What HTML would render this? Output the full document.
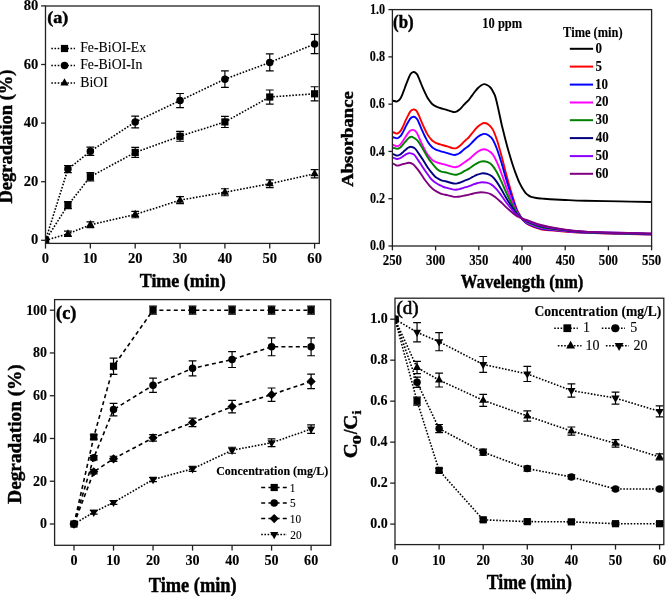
<!DOCTYPE html>
<html><head><meta charset="utf-8"><style>
html,body{margin:0;padding:0;background:#fff;}
svg{display:block;font-family:"Liberation Serif", serif;font-weight:bold;filter:blur(0.3px);}
text{stroke:#000;}
</style></head><body>
<svg width="666" height="596" viewBox="0 0 666 596">
<rect width="666" height="596" fill="#fff"/>
<clipPath id="ca"><rect x="45.5" y="6.0" width="273.8" height="237.4"/></clipPath><g clip-path="url(#ca)">
<path d="M45.50 240.30L67.92 205.14L90.35 176.72L135.20 152.40L180.05 136.29L224.90 121.93L269.75 97.02L314.60 93.80" fill="none" stroke="#000" stroke-width="1.6" stroke-dasharray="1.6 1.6"/>
<path d="M45.50 240.30L67.92 169.10L90.35 151.23L135.20 121.93L180.05 100.54L224.90 79.15L269.75 62.45L314.60 43.99" fill="none" stroke="#000" stroke-width="1.6" stroke-dasharray="1.6 1.6"/>
<path d="M45.50 240.30L67.92 233.85L90.35 224.77L135.20 214.52L180.05 200.16L224.90 192.25L269.75 183.75L314.60 173.79" fill="none" stroke="#000" stroke-width="1.6" stroke-dasharray="1.6 1.6"/>
<rect x="41.90" y="236.70" width="7.20" height="7.20" fill="#000"/>
<path d="M67.92 201.62V208.66M64.02 201.62H71.83M64.02 208.66H71.83" stroke="#000" stroke-width="1.2" fill="none"/>
<rect x="64.33" y="201.54" width="7.20" height="7.20" fill="#000"/>
<path d="M90.35 172.62V180.82M86.45 172.62H94.25M86.45 180.82H94.25" stroke="#000" stroke-width="1.2" fill="none"/>
<rect x="86.75" y="173.12" width="7.20" height="7.20" fill="#000"/>
<path d="M135.20 147.42V157.38M131.30 147.42H139.10M131.30 157.38H139.10" stroke="#000" stroke-width="1.2" fill="none"/>
<rect x="131.60" y="148.80" width="7.20" height="7.20" fill="#000"/>
<path d="M180.05 131.30V141.27M176.15 131.30H183.95M176.15 141.27H183.95" stroke="#000" stroke-width="1.2" fill="none"/>
<rect x="176.45" y="132.69" width="7.20" height="7.20" fill="#000"/>
<path d="M224.90 116.36V127.50M221.00 116.36H228.80M221.00 127.50H228.80" stroke="#000" stroke-width="1.2" fill="none"/>
<rect x="221.30" y="118.33" width="7.20" height="7.20" fill="#000"/>
<path d="M269.75 89.99V104.06M265.85 89.99H273.65M265.85 104.06H273.65" stroke="#000" stroke-width="1.2" fill="none"/>
<rect x="266.15" y="93.42" width="7.20" height="7.20" fill="#000"/>
<path d="M314.60 86.77V100.83M310.70 86.77H318.50M310.70 100.83H318.50" stroke="#000" stroke-width="1.2" fill="none"/>
<rect x="311.00" y="90.20" width="7.20" height="7.20" fill="#000"/>
<circle cx="45.50" cy="240.30" r="3.75" fill="#000"/>
<path d="M67.92 165.59V172.62M64.02 165.59H71.83M64.02 172.62H71.83" stroke="#000" stroke-width="1.2" fill="none"/>
<circle cx="67.92" cy="169.10" r="3.75" fill="#000"/>
<path d="M90.35 147.13V155.33M86.45 147.13H94.25M86.45 155.33H94.25" stroke="#000" stroke-width="1.2" fill="none"/>
<circle cx="90.35" cy="151.23" r="3.75" fill="#000"/>
<path d="M135.20 116.07V127.79M131.30 116.07H139.10M131.30 127.79H139.10" stroke="#000" stroke-width="1.2" fill="none"/>
<circle cx="135.20" cy="121.93" r="3.75" fill="#000"/>
<path d="M180.05 93.51V107.57M176.15 93.51H183.95M176.15 107.57H183.95" stroke="#000" stroke-width="1.2" fill="none"/>
<circle cx="180.05" cy="100.54" r="3.75" fill="#000"/>
<path d="M224.90 70.95V87.35M221.00 70.95H228.80M221.00 87.35H228.80" stroke="#000" stroke-width="1.2" fill="none"/>
<circle cx="224.90" cy="79.15" r="3.75" fill="#000"/>
<path d="M269.75 53.95V70.95M265.85 53.95H273.65M265.85 70.95H273.65" stroke="#000" stroke-width="1.2" fill="none"/>
<circle cx="269.75" cy="62.45" r="3.75" fill="#000"/>
<path d="M314.60 34.32V53.66M310.70 34.32H318.50M310.70 53.66H318.50" stroke="#000" stroke-width="1.2" fill="none"/>
<circle cx="314.60" cy="43.99" r="3.75" fill="#000"/>
<path d="M45.50 235.60L49.60 242.80L41.40 242.80Z" fill="#000"/>
<path d="M67.92 231.22V236.49M64.02 231.22H71.83M64.02 236.49H71.83" stroke="#000" stroke-width="1.2" fill="none"/>
<path d="M67.92 229.15L72.02 236.35L63.82 236.35Z" fill="#000"/>
<path d="M90.35 221.84V227.70M86.45 221.84H94.25M86.45 227.70H94.25" stroke="#000" stroke-width="1.2" fill="none"/>
<path d="M90.35 220.07L94.45 227.27L86.25 227.27Z" fill="#000"/>
<path d="M135.20 211.29V217.74M131.30 211.29H139.10M131.30 217.74H139.10" stroke="#000" stroke-width="1.2" fill="none"/>
<path d="M135.20 209.82L139.30 217.02L131.10 217.02Z" fill="#000"/>
<path d="M180.05 196.64V203.68M176.15 196.64H183.95M176.15 203.68H183.95" stroke="#000" stroke-width="1.2" fill="none"/>
<path d="M180.05 195.46L184.15 202.66L175.95 202.66Z" fill="#000"/>
<path d="M224.90 188.73V195.76M221.00 188.73H228.80M221.00 195.76H228.80" stroke="#000" stroke-width="1.2" fill="none"/>
<path d="M224.90 187.55L229.00 194.75L220.80 194.75Z" fill="#000"/>
<path d="M269.75 179.94V187.56M265.85 179.94H273.65M265.85 187.56H273.65" stroke="#000" stroke-width="1.2" fill="none"/>
<path d="M269.75 179.05L273.85 186.25L265.65 186.25Z" fill="#000"/>
<path d="M314.60 169.69V177.89M310.70 169.69H318.50M310.70 177.89H318.50" stroke="#000" stroke-width="1.2" fill="none"/>
<path d="M314.60 169.09L318.70 176.29L310.50 176.29Z" fill="#000"/>
</g>
<rect x="45.50" y="6.00" width="273.80" height="237.40" fill="none" stroke="#222" stroke-width="1.3"/>
<line x1="45.50" y1="243.40" x2="45.50" y2="248.60" stroke="#222" stroke-width="1.3"/>
<text x="41.86" y="262.60" font-size="14.70" style="stroke-width:0.12px" textLength="7.28" lengthAdjust="spacingAndGlyphs">0</text>
<line x1="90.35" y1="243.40" x2="90.35" y2="248.60" stroke="#222" stroke-width="1.3"/>
<text x="82.78" y="262.60" font-size="14.70" style="stroke-width:0.12px" textLength="14.55" lengthAdjust="spacingAndGlyphs">10</text>
<line x1="135.20" y1="243.40" x2="135.20" y2="248.60" stroke="#222" stroke-width="1.3"/>
<text x="127.92" y="262.60" font-size="14.70" style="stroke-width:0.12px" textLength="14.55" lengthAdjust="spacingAndGlyphs">20</text>
<line x1="180.05" y1="243.40" x2="180.05" y2="248.60" stroke="#222" stroke-width="1.3"/>
<text x="172.81" y="262.60" font-size="14.70" style="stroke-width:0.12px" textLength="14.55" lengthAdjust="spacingAndGlyphs">30</text>
<line x1="224.90" y1="243.40" x2="224.90" y2="248.60" stroke="#222" stroke-width="1.3"/>
<text x="217.81" y="262.60" font-size="14.70" style="stroke-width:0.12px" textLength="14.55" lengthAdjust="spacingAndGlyphs">40</text>
<line x1="269.75" y1="243.40" x2="269.75" y2="248.60" stroke="#222" stroke-width="1.3"/>
<text x="262.47" y="262.60" font-size="14.70" style="stroke-width:0.12px" textLength="14.55" lengthAdjust="spacingAndGlyphs">50</text>
<line x1="314.60" y1="243.40" x2="314.60" y2="248.60" stroke="#222" stroke-width="1.3"/>
<text x="307.36" y="262.60" font-size="14.70" style="stroke-width:0.12px" textLength="14.55" lengthAdjust="spacingAndGlyphs">60</text>
<line x1="41.10" y1="240.30" x2="45.50" y2="240.30" stroke="#222" stroke-width="1.3"/>
<text x="31.11" y="244.40" font-size="14.70" style="stroke-width:0.12px" textLength="7.28" lengthAdjust="spacingAndGlyphs">0</text>
<line x1="41.10" y1="181.70" x2="45.50" y2="181.70" stroke="#222" stroke-width="1.3"/>
<text x="23.83" y="185.80" font-size="14.70" style="stroke-width:0.12px" textLength="14.55" lengthAdjust="spacingAndGlyphs">20</text>
<line x1="41.10" y1="123.10" x2="45.50" y2="123.10" stroke="#222" stroke-width="1.3"/>
<text x="23.83" y="127.20" font-size="14.70" style="stroke-width:0.12px" textLength="14.55" lengthAdjust="spacingAndGlyphs">40</text>
<line x1="41.10" y1="64.50" x2="45.50" y2="64.50" stroke="#222" stroke-width="1.3"/>
<text x="23.83" y="68.60" font-size="14.70" style="stroke-width:0.12px" textLength="14.55" lengthAdjust="spacingAndGlyphs">60</text>
<line x1="41.10" y1="5.90" x2="45.50" y2="5.90" stroke="#222" stroke-width="1.3"/>
<text x="23.83" y="10.00" font-size="14.70" style="stroke-width:0.12px" textLength="14.55" lengthAdjust="spacingAndGlyphs">80</text>
<text x="139.73" y="286.70" font-size="17.90" style="stroke-width:0.45px" textLength="86.02" lengthAdjust="spacingAndGlyphs">Time (min)</text>
<text x="12.10" y="203.58" font-size="18.50" style="stroke-width:0.45px" textLength="134.09" lengthAdjust="spacingAndGlyphs" transform="rotate(-90 12.10 203.58)">Degradation (%)</text>
<text x="47.24" y="23.30" font-size="17.50" style="stroke-width:0.45px" textLength="21.11" lengthAdjust="spacingAndGlyphs">(a)</text>
<path d="M51.30 48.50L75.00 48.50" fill="none" stroke="#000" stroke-width="1.5" stroke-dasharray="1.6 1.6"/>
<rect x="60.90" y="44.90" width="7.20" height="7.20" fill="#000"/>
<text x="80.19" y="52.20" font-size="14.30" font-weight="normal" style="stroke-width:0.1px" textLength="65.99" lengthAdjust="spacingAndGlyphs">Fe-BiOI-Ex</text>
<path d="M51.30 65.60L75.00 65.60" fill="none" stroke="#000" stroke-width="1.5" stroke-dasharray="1.6 1.6"/>
<circle cx="64.50" cy="65.60" r="3.75" fill="#000"/>
<text x="80.19" y="69.30" font-size="14.30" font-weight="normal" style="stroke-width:0.1px" textLength="62.15" lengthAdjust="spacingAndGlyphs">Fe-BiOI-In</text>
<path d="M51.30 82.90L75.00 82.90" fill="none" stroke="#000" stroke-width="1.5" stroke-dasharray="1.6 1.6"/>
<path d="M64.50 78.20L68.60 85.40L60.40 85.40Z" fill="#000"/>
<text x="80.19" y="86.60" font-size="14.30" font-weight="normal" style="stroke-width:0.1px" textLength="27.63" lengthAdjust="spacingAndGlyphs">BiOI</text>
<clipPath id="cb"><rect x="392.4" y="9.6" width="259.2" height="236.4"/></clipPath><g clip-path="url(#cb)" fill="none" stroke-width="1.9" stroke-linejoin="round">
<path d="M392.50 100.60C392.83 100.67 393.78 100.83 394.50 101.00C395.22 101.17 396.12 101.67 396.80 101.60C397.48 101.53 398.00 101.10 398.60 100.60C399.20 100.10 399.80 99.57 400.40 98.60C401.00 97.63 401.60 96.20 402.20 94.80C402.80 93.40 403.40 91.80 404.00 90.20C404.60 88.60 405.20 86.80 405.80 85.20C406.40 83.60 407.05 81.97 407.60 80.60C408.15 79.23 408.60 78.10 409.10 77.00C409.60 75.90 410.07 74.75 410.60 74.00C411.13 73.25 411.75 72.83 412.30 72.50C412.85 72.17 413.37 71.97 413.90 72.00C414.43 72.03 414.95 72.27 415.50 72.70C416.05 73.13 416.62 73.63 417.20 74.60C417.78 75.57 418.40 77.10 419.00 78.50C419.60 79.90 420.20 81.53 420.80 83.00C421.40 84.47 422.00 85.90 422.60 87.30C423.20 88.70 423.80 90.08 424.40 91.40C425.00 92.72 425.60 94.00 426.20 95.20C426.80 96.40 427.30 97.48 428.00 98.60C428.70 99.72 429.60 100.90 430.40 101.90C431.20 102.90 431.90 103.85 432.80 104.60C433.70 105.35 434.80 105.90 435.80 106.40C436.80 106.90 437.80 107.25 438.80 107.60C439.80 107.95 440.78 108.20 441.80 108.50C442.82 108.80 443.98 109.13 444.90 109.40C445.82 109.67 446.50 109.85 447.30 110.10C448.10 110.35 448.90 110.63 449.70 110.90C450.50 111.17 451.30 111.50 452.10 111.70C452.90 111.90 453.70 112.15 454.50 112.10C455.30 112.05 456.10 111.78 456.90 111.40C457.70 111.02 458.50 110.47 459.30 109.80C460.10 109.13 460.90 108.27 461.70 107.40C462.50 106.53 463.30 105.47 464.10 104.60C464.90 103.73 465.70 103.00 466.50 102.20C467.30 101.40 467.98 100.90 468.90 99.80C469.82 98.70 470.98 96.98 472.00 95.60C473.02 94.22 474.00 92.77 475.00 91.50C476.00 90.23 477.00 89.00 478.00 88.00C479.00 87.00 479.98 86.15 481.00 85.50C482.02 84.85 483.10 84.18 484.10 84.10C485.10 84.02 485.95 84.43 487.00 85.00C488.05 85.57 489.45 86.50 490.40 87.50C491.35 88.50 491.95 89.68 492.70 91.00C493.45 92.32 494.25 93.65 494.90 95.40C495.55 97.15 496.03 99.23 496.60 101.50C497.17 103.77 497.73 106.45 498.30 109.00C498.87 111.55 499.43 114.17 500.00 116.80C500.57 119.43 501.03 121.93 501.70 124.80C502.37 127.67 503.23 130.97 504.00 134.00C504.77 137.03 505.55 140.17 506.30 143.00C507.05 145.83 507.75 148.37 508.50 151.00C509.25 153.63 510.05 156.33 510.80 158.80C511.55 161.27 512.25 163.53 513.00 165.80C513.75 168.07 514.53 170.30 515.30 172.40C516.07 174.50 516.83 176.52 517.60 178.40C518.37 180.28 519.05 181.97 519.90 183.70C520.75 185.43 521.77 187.28 522.70 188.80C523.63 190.32 524.57 191.72 525.50 192.80C526.43 193.88 527.35 194.62 528.30 195.30C529.25 195.98 529.88 196.45 531.20 196.90C532.52 197.35 534.32 197.72 536.20 198.00C538.08 198.28 540.20 198.40 542.50 198.60C544.80 198.80 546.25 198.97 550.00 199.20C553.75 199.43 559.17 199.73 565.00 200.00C570.83 200.27 575.83 200.57 585.00 200.80C594.17 201.03 608.90 201.20 620.00 201.40C631.10 201.60 646.33 201.90 651.60 202.00" stroke="#000000"/>
<path d="M392.50 132.20C392.83 132.29 393.78 132.53 394.50 132.76C395.22 132.99 396.12 133.60 396.80 133.60C397.48 133.60 398.00 133.19 398.60 132.78C399.20 132.37 399.80 131.94 400.40 131.15C401.00 130.36 401.60 129.19 402.20 128.04C402.80 126.90 403.40 125.59 404.00 124.28C404.60 122.97 405.20 121.50 405.80 120.19C406.40 118.88 407.05 117.55 407.60 116.43C408.15 115.31 408.60 114.39 409.10 113.49C409.60 112.59 410.07 111.65 410.60 111.04C411.13 110.42 411.75 110.08 412.30 109.81C412.85 109.54 413.37 109.35 413.90 109.40C414.43 109.45 414.95 109.66 415.50 110.08C416.05 110.50 416.62 110.99 417.20 111.93C417.78 112.87 418.40 114.36 419.00 115.72C419.60 117.08 420.20 118.67 420.80 120.10C421.40 121.52 422.00 122.92 422.60 124.28C423.20 125.64 423.80 126.99 424.40 128.27C425.00 129.55 425.60 130.80 426.20 131.96C426.80 133.13 427.30 134.18 428.00 135.27C428.70 136.36 429.60 137.51 430.40 138.48C431.20 139.45 431.90 140.38 432.80 141.11C433.70 141.84 434.80 142.37 435.80 142.86C436.80 143.34 437.80 143.68 438.80 144.02C439.80 144.36 440.78 144.61 441.80 144.90C442.82 145.19 443.98 145.51 444.90 145.77C445.82 146.03 446.50 146.21 447.30 146.45C448.10 146.70 448.90 146.97 449.70 147.23C450.50 147.49 451.30 147.82 452.10 148.01C452.90 148.21 453.70 148.44 454.50 148.40C455.30 148.36 456.10 148.11 456.90 147.77C457.70 147.42 458.50 146.92 459.30 146.31C460.10 145.71 460.90 144.92 461.70 144.14C462.50 143.35 463.30 142.38 464.10 141.60C464.90 140.81 465.70 140.15 466.50 139.42C467.30 138.69 467.98 138.24 468.90 137.24C469.82 136.24 470.98 134.69 472.00 133.43C473.02 132.18 474.00 130.86 475.00 129.71C476.00 128.56 477.00 127.45 478.00 126.54C479.00 125.63 479.98 124.86 481.00 124.27C482.02 123.68 482.93 123.00 484.10 123.00C485.27 123.00 486.57 123.21 488.00 124.27C489.43 125.32 491.17 126.59 492.70 129.34C494.23 132.08 495.70 136.21 497.20 140.74C498.70 145.26 500.18 150.84 501.70 156.49C503.22 162.13 504.78 168.91 506.30 174.58C507.82 180.26 509.10 184.84 510.80 190.51C512.50 196.18 515.13 204.78 516.50 208.61C517.87 212.44 517.92 211.57 519.00 213.50C520.08 215.43 521.33 218.28 523.00 220.20C524.67 222.12 526.00 223.50 529.00 225.00C532.00 226.50 536.00 228.20 541.00 229.20C546.00 230.20 551.67 230.40 559.00 231.00C566.33 231.60 569.57 232.22 585.00 232.80C600.43 233.38 640.50 234.22 651.60 234.50" stroke="#ff0000"/>
<path d="M392.50 137.20C392.83 137.28 393.78 137.48 394.50 137.68C395.22 137.88 396.12 138.40 396.80 138.40C397.48 138.40 398.00 138.04 398.60 137.67C399.20 137.31 399.80 136.92 400.40 136.21C401.00 135.51 401.60 134.46 402.20 133.44C402.80 132.42 403.40 131.25 404.00 130.08C404.60 128.91 405.20 127.60 405.80 126.43C406.40 125.26 407.05 124.07 407.60 123.08C408.15 122.08 408.60 121.25 409.10 120.45C409.60 119.65 410.07 118.81 410.60 118.26C411.13 117.71 411.75 117.41 412.30 117.16C412.85 116.92 413.37 116.75 413.90 116.80C414.43 116.85 414.95 117.05 415.50 117.47C416.05 117.88 416.62 118.36 417.20 119.28C417.78 120.20 418.40 121.66 419.00 122.99C419.60 124.33 420.20 125.88 420.80 127.28C421.40 128.68 422.00 130.04 422.60 131.38C423.20 132.71 423.80 134.03 424.40 135.28C425.00 136.54 425.60 137.76 426.20 138.90C426.80 140.04 427.30 141.08 428.00 142.14C428.70 143.20 429.60 144.33 430.40 145.28C431.20 146.24 431.90 147.14 432.80 147.86C433.70 148.57 434.80 149.09 435.80 149.57C436.80 150.05 437.80 150.38 438.80 150.71C439.80 151.05 440.78 151.28 441.80 151.57C442.82 151.86 443.98 152.17 444.90 152.43C445.82 152.68 446.50 152.86 447.30 153.09C448.10 153.33 448.90 153.60 449.70 153.86C450.50 154.11 451.30 154.43 452.10 154.62C452.90 154.81 453.70 155.02 454.50 155.00C455.30 154.98 456.10 154.76 456.90 154.47C457.70 154.18 458.50 153.77 459.30 153.27C460.10 152.76 460.90 152.11 461.70 151.46C462.50 150.81 463.30 150.00 464.10 149.35C464.90 148.70 465.70 148.14 466.50 147.54C467.30 146.94 467.98 146.56 468.90 145.73C469.82 144.90 470.98 143.61 472.00 142.57C473.02 141.52 474.00 140.43 475.00 139.48C476.00 138.52 477.00 137.59 478.00 136.84C479.00 136.09 479.98 135.44 481.00 134.96C482.02 134.47 482.93 133.89 484.10 133.90C485.27 133.91 486.57 134.09 488.00 135.02C489.43 135.96 491.17 137.08 492.70 139.51C494.23 141.95 495.70 145.61 497.20 149.62C498.70 153.63 500.18 158.57 501.70 163.57C503.22 168.57 504.78 174.58 506.30 179.60C507.82 184.63 509.10 188.69 510.80 193.72C512.50 198.74 515.13 206.36 516.50 209.75C517.87 213.15 517.92 212.38 519.00 214.08C520.08 215.79 521.33 218.30 523.00 220.00C524.67 221.70 526.00 222.88 529.00 224.30C532.00 225.72 536.00 227.45 541.00 228.50C546.00 229.55 551.67 229.92 559.00 230.60C566.33 231.28 569.57 231.98 585.00 232.60C600.43 233.22 640.50 234.04 651.60 234.33" stroke="#0000ff"/>
<path d="M392.50 144.80C392.83 144.90 393.78 145.15 394.50 145.40C395.22 145.65 396.13 146.24 396.80 146.30C397.47 146.36 397.94 146.02 398.51 145.75C399.07 145.47 399.64 145.17 400.21 144.64C400.78 144.10 401.35 143.31 401.92 142.53C402.48 141.76 403.05 140.87 403.62 139.98C404.19 139.10 404.76 138.10 405.33 137.21C405.89 136.33 406.51 135.42 407.03 134.66C407.55 133.91 407.98 133.28 408.45 132.67C408.93 132.06 409.37 131.42 409.87 131.01C410.38 130.59 410.96 130.36 411.48 130.18C412.01 129.99 412.47 129.84 413.00 129.90C413.53 129.96 414.09 130.15 414.66 130.55C415.22 130.95 415.81 131.42 416.41 132.32C417.02 133.22 417.66 134.64 418.28 135.95C418.90 137.25 419.52 138.77 420.14 140.13C420.76 141.50 421.38 142.83 422.00 144.13C422.62 145.43 423.24 146.72 423.86 147.95C424.48 149.17 425.10 150.36 425.72 151.48C426.34 152.60 426.86 153.60 427.59 154.64C428.31 155.68 429.24 156.78 430.07 157.71C430.90 158.64 431.62 159.53 432.55 160.22C433.48 160.92 434.62 161.43 435.66 161.90C436.69 162.36 437.72 162.69 438.76 163.01C439.79 163.34 440.81 163.57 441.86 163.85C442.91 164.13 444.12 164.44 445.07 164.69C446.02 164.94 446.72 165.11 447.55 165.34C448.38 165.57 449.21 165.84 450.03 166.08C450.86 166.33 451.69 166.64 452.52 166.83C453.34 167.01 454.20 167.21 455.00 167.20C455.80 167.19 456.55 167.00 457.32 166.75C458.09 166.51 458.86 166.16 459.64 165.73C460.41 165.30 461.18 164.75 461.96 164.20C462.73 163.64 463.50 162.96 464.28 162.41C465.05 161.85 465.82 161.38 466.59 160.87C467.37 160.36 468.03 160.04 468.91 159.34C469.80 158.63 470.93 157.54 471.91 156.65C472.89 155.77 473.84 154.84 474.81 154.03C475.77 153.22 476.74 152.43 477.71 151.79C478.67 151.15 479.62 150.61 480.60 150.20C481.59 149.78 482.44 149.30 483.60 149.30C484.76 149.30 486.10 149.45 487.56 150.22C489.01 150.98 490.77 151.89 492.32 153.88C493.88 155.86 495.37 158.84 496.89 162.11C498.41 165.38 499.91 169.41 501.45 173.49C502.99 177.56 504.58 182.46 506.12 186.56C507.66 190.66 508.96 193.97 510.68 198.06C512.41 202.16 515.08 208.37 516.46 211.14C517.85 213.90 517.91 213.22 519.00 214.67C520.09 216.11 521.33 218.31 523.00 219.80C524.67 221.29 526.00 222.27 529.00 223.60C532.00 224.93 536.00 226.70 541.00 227.80C546.00 228.90 551.67 229.43 559.00 230.20C566.33 230.97 569.57 231.74 585.00 232.40C600.43 233.06 640.50 233.87 651.60 234.17" stroke="#ff00ff"/>
<path d="M392.50 147.60C392.83 147.69 393.78 147.90 394.50 148.12C395.22 148.34 396.15 148.84 396.80 148.90C397.45 148.96 397.88 148.70 398.42 148.49C398.96 148.29 399.50 148.07 400.04 147.67C400.58 147.28 401.12 146.69 401.66 146.12C402.20 145.55 402.74 144.89 403.28 144.24C403.82 143.59 404.36 142.85 404.91 142.20C405.45 141.54 406.03 140.87 406.53 140.32C407.02 139.76 407.43 139.29 407.88 138.84C408.33 138.39 408.75 137.92 409.23 137.62C409.71 137.31 410.26 137.14 410.76 137.00C411.25 136.87 411.14 136.27 412.20 136.80C413.26 137.33 415.62 138.67 417.10 140.20C418.58 141.73 419.75 143.85 421.10 146.00C422.45 148.15 423.85 150.83 425.20 153.10C426.55 155.37 427.87 157.67 429.20 159.60C430.53 161.53 431.87 163.10 433.20 164.70C434.53 166.30 435.85 168.03 437.20 169.20C438.55 170.37 440.01 171.19 441.30 171.70C442.59 172.21 443.92 172.04 444.96 172.24C445.99 172.44 446.65 172.67 447.49 172.90C448.34 173.14 449.18 173.41 450.03 173.66C450.87 173.92 451.72 174.23 452.56 174.42C453.41 174.61 454.30 174.79 455.10 174.80C455.90 174.81 456.61 174.65 457.37 174.46C458.13 174.27 458.88 174.01 459.64 173.68C460.40 173.36 461.15 172.94 461.91 172.52C462.67 172.10 463.42 171.58 464.18 171.16C464.94 170.74 465.69 170.38 466.45 169.99C467.21 169.60 467.85 169.36 468.72 168.83C469.59 168.29 470.69 167.46 471.65 166.79C472.62 166.11 473.55 165.41 474.49 164.79C475.44 164.18 476.38 163.58 477.33 163.09C478.28 162.61 479.21 162.20 480.17 161.88C481.13 161.56 481.94 161.19 483.10 161.20C484.26 161.21 485.64 161.33 487.11 161.96C488.59 162.59 490.37 163.34 491.95 164.98C493.52 166.62 495.03 169.09 496.58 171.79C498.12 174.50 499.64 177.83 501.20 181.20C502.76 184.57 504.38 188.62 505.94 192.01C507.50 195.40 508.82 198.13 510.57 201.52C512.31 204.91 515.02 210.04 516.43 212.33C517.83 214.62 517.90 214.04 519.00 215.25C520.10 216.46 521.33 218.32 523.00 219.60C524.67 220.88 526.00 221.65 529.00 222.90C532.00 224.15 536.00 225.95 541.00 227.10C546.00 228.25 551.67 228.95 559.00 229.80C566.33 230.65 569.57 231.50 585.00 232.20C600.43 232.90 640.50 233.70 651.60 234.00" stroke="#008000"/>
<path d="M392.50 154.00C392.83 154.11 393.78 154.37 394.50 154.64C395.22 154.91 396.16 155.49 396.80 155.60C397.44 155.71 397.82 155.45 398.33 155.31C398.84 155.16 399.34 155.00 399.85 154.72C400.36 154.43 400.87 154.01 401.38 153.60C401.89 153.19 402.40 152.72 402.91 152.25C403.41 151.78 403.92 151.25 404.43 150.78C404.94 150.31 405.49 149.83 405.96 149.43C406.42 149.03 406.81 148.69 407.23 148.37C407.65 148.05 408.05 147.71 408.50 147.49C408.95 147.27 409.48 147.14 409.94 147.05C410.41 146.95 410.44 146.64 411.30 146.90C412.16 147.16 413.80 147.40 415.10 148.60C416.40 149.80 417.77 152.18 419.10 154.10C420.43 156.02 421.75 158.00 423.10 160.10C424.45 162.20 425.85 164.68 427.20 166.70C428.55 168.72 429.87 170.53 431.20 172.20C432.53 173.87 433.85 175.52 435.20 176.70C436.55 177.88 438.27 178.70 439.30 179.30C440.33 179.90 440.49 180.00 441.40 180.31C442.31 180.61 443.75 180.88 444.74 181.13C445.73 181.37 446.47 181.54 447.33 181.77C448.20 182.00 449.06 182.26 449.92 182.50C450.78 182.75 451.65 183.05 452.51 183.23C453.37 183.42 454.29 183.58 455.10 183.60C455.91 183.62 456.61 183.48 457.37 183.34C458.13 183.20 458.88 183.00 459.64 182.75C460.40 182.51 461.15 182.19 461.91 181.87C462.67 181.55 463.42 181.16 464.18 180.84C464.94 180.52 465.69 180.25 466.45 179.96C467.21 179.66 467.85 179.48 468.72 179.08C469.59 178.67 470.69 178.04 471.65 177.53C472.62 177.02 473.55 176.49 474.49 176.02C475.44 175.56 476.38 175.10 477.33 174.73C478.28 174.37 479.21 174.05 480.17 173.81C481.13 173.58 481.94 173.29 483.10 173.30C484.26 173.31 485.64 173.40 487.11 173.90C488.59 174.39 490.37 174.99 491.95 176.28C493.52 177.57 495.03 179.51 496.58 181.64C498.12 183.76 499.64 186.39 501.20 189.04C502.76 191.69 504.38 194.88 505.94 197.54C507.50 200.21 508.82 202.36 510.57 205.03C512.31 207.70 515.02 211.74 516.43 213.54C517.83 215.34 517.90 214.86 519.00 215.83C520.10 216.81 521.33 218.34 523.00 219.40C524.67 220.46 526.00 221.03 529.00 222.20C532.00 223.37 536.00 225.20 541.00 226.40C546.00 227.60 551.67 228.47 559.00 229.40C566.33 230.33 569.57 231.26 585.00 232.00C600.43 232.74 640.50 233.53 651.60 233.83" stroke="#000080"/>
<path d="M392.50 157.60C392.83 157.69 393.78 157.93 394.50 158.16C395.22 158.39 396.19 158.89 396.80 159.00C397.41 159.11 397.73 158.90 398.19 158.80C398.65 158.71 399.12 158.60 399.58 158.41C400.04 158.22 400.51 157.94 400.97 157.67C401.43 157.39 401.89 157.08 402.36 156.77C402.82 156.45 403.28 156.10 403.75 155.79C404.21 155.47 404.71 155.15 405.14 154.89C405.56 154.62 405.91 154.40 406.29 154.18C406.68 153.96 407.04 153.74 407.45 153.59C407.86 153.44 408.34 153.36 408.76 153.30C409.19 153.23 409.11 152.98 410.00 153.20C410.89 153.42 412.75 153.45 414.10 154.60C415.45 155.75 416.77 158.17 418.10 160.10C419.43 162.03 420.75 164.18 422.10 166.20C423.45 168.22 424.85 170.27 426.20 172.20C427.55 174.13 428.87 176.20 430.20 177.80C431.53 179.40 432.87 180.72 434.20 181.80C435.53 182.88 436.85 183.55 438.20 184.30C439.55 185.05 441.26 185.81 442.30 186.30C443.34 186.79 443.64 186.98 444.44 187.24C445.24 187.51 446.21 187.65 447.10 187.88C447.99 188.11 448.88 188.37 449.77 188.61C450.66 188.85 451.55 189.15 452.43 189.34C453.32 189.52 454.29 189.67 455.10 189.70C455.91 189.73 456.58 189.62 457.32 189.51C458.06 189.41 458.80 189.26 459.54 189.08C460.28 188.91 461.02 188.67 461.76 188.44C462.51 188.21 463.25 187.92 463.99 187.69C464.73 187.46 465.47 187.26 466.21 187.05C466.95 186.83 467.58 186.70 468.43 186.41C469.28 186.11 470.36 185.65 471.30 185.28C472.24 184.91 473.15 184.52 474.08 184.18C475.00 183.84 475.93 183.51 476.85 183.24C477.78 182.98 478.69 182.75 479.63 182.57C480.57 182.40 481.34 182.18 482.50 182.20C483.66 182.22 485.08 182.28 486.58 182.68C488.08 183.08 489.89 183.56 491.49 184.60C493.10 185.63 494.63 187.20 496.20 188.91C497.77 190.62 499.32 192.73 500.91 194.86C502.49 196.99 504.13 199.56 505.72 201.70C507.30 203.85 508.65 205.58 510.42 207.73C512.20 209.87 514.96 213.12 516.39 214.57C517.81 216.02 517.90 215.64 519.00 216.42C520.10 217.19 521.33 218.35 523.00 219.20C524.67 220.05 526.00 220.42 529.00 221.50C532.00 222.58 536.00 224.45 541.00 225.70C546.00 226.95 551.67 227.98 559.00 229.00C566.33 230.02 569.57 231.02 585.00 231.80C600.43 232.58 640.50 233.36 651.60 233.67" stroke="#8b00ff"/>
<path d="M392.50 163.40C392.83 163.55 393.78 163.91 394.50 164.28C395.22 164.65 396.21 165.40 396.80 165.60C397.39 165.80 397.64 165.55 398.06 165.50C398.48 165.45 398.91 165.40 399.33 165.31C399.75 165.21 400.17 165.07 400.59 164.93C401.01 164.80 401.43 164.64 401.85 164.48C402.27 164.33 402.59 164.14 403.12 163.99C403.64 163.85 404.02 163.82 405.00 163.60C405.98 163.38 407.65 162.60 409.00 162.70C410.35 162.80 411.75 163.20 413.10 164.20C414.45 165.20 415.77 167.03 417.10 168.70C418.43 170.37 419.75 172.27 421.10 174.20C422.45 176.13 423.85 178.45 425.20 180.30C426.55 182.15 427.87 183.80 429.20 185.30C430.53 186.80 431.87 188.22 433.20 189.30C434.53 190.38 435.85 191.03 437.20 191.80C438.55 192.57 440.06 193.43 441.30 193.90C442.54 194.37 443.60 194.38 444.61 194.60C445.62 194.81 446.46 194.98 447.38 195.19C448.31 195.41 449.23 195.65 450.16 195.88C451.08 196.10 452.00 196.39 452.93 196.56C453.85 196.73 454.89 196.86 455.70 196.90C456.51 196.94 457.08 196.85 457.78 196.78C458.47 196.72 459.16 196.63 459.85 196.52C460.54 196.41 461.24 196.27 461.93 196.13C462.62 195.99 463.31 195.81 464.00 195.67C464.69 195.53 465.39 195.41 466.08 195.27C466.77 195.14 467.36 195.06 468.15 194.88C468.95 194.70 469.96 194.42 470.84 194.19C471.71 193.96 472.56 193.72 473.43 193.52C474.29 193.31 475.16 193.11 476.02 192.94C476.89 192.78 477.74 192.64 478.62 192.53C479.50 192.42 480.15 192.28 481.30 192.30C482.45 192.32 483.96 192.36 485.51 192.65C487.06 192.93 488.93 193.28 490.59 194.03C492.25 194.78 493.83 195.91 495.45 197.14C497.07 198.38 498.67 199.90 500.31 201.44C501.95 202.98 503.64 204.83 505.28 206.38C506.92 207.93 508.31 209.18 510.14 210.73C511.98 212.27 514.82 214.62 516.30 215.67C517.78 216.71 517.88 216.44 519.00 217.00C520.12 217.56 521.33 218.37 523.00 219.00C524.67 219.63 526.00 219.80 529.00 220.80C532.00 221.80 536.00 223.70 541.00 225.00C546.00 226.30 551.67 227.50 559.00 228.60C566.33 229.70 569.57 230.78 585.00 231.60C600.43 232.42 640.50 233.18 651.60 233.50" stroke="#800080"/>
</g>
<rect x="392.40" y="9.60" width="259.20" height="236.40" fill="none" stroke="#222" stroke-width="1.3"/>
<line x1="392.40" y1="246.00" x2="392.40" y2="250.30" stroke="#222" stroke-width="1.3"/>
<text x="382.77" y="264.90" font-size="13.80" style="stroke-width:0.12px" textLength="19.25" lengthAdjust="spacingAndGlyphs">250</text>
<line x1="435.60" y1="246.00" x2="435.60" y2="250.30" stroke="#222" stroke-width="1.3"/>
<text x="426.01" y="264.90" font-size="13.80" style="stroke-width:0.12px" textLength="19.25" lengthAdjust="spacingAndGlyphs">300</text>
<line x1="478.80" y1="246.00" x2="478.80" y2="250.30" stroke="#222" stroke-width="1.3"/>
<text x="469.21" y="264.90" font-size="13.80" style="stroke-width:0.12px" textLength="19.25" lengthAdjust="spacingAndGlyphs">350</text>
<line x1="522.00" y1="246.00" x2="522.00" y2="250.30" stroke="#222" stroke-width="1.3"/>
<text x="512.53" y="264.90" font-size="13.80" style="stroke-width:0.12px" textLength="19.25" lengthAdjust="spacingAndGlyphs">400</text>
<line x1="565.20" y1="246.00" x2="565.20" y2="250.30" stroke="#222" stroke-width="1.3"/>
<text x="555.73" y="264.90" font-size="13.80" style="stroke-width:0.12px" textLength="19.25" lengthAdjust="spacingAndGlyphs">450</text>
<line x1="608.40" y1="246.00" x2="608.40" y2="250.30" stroke="#222" stroke-width="1.3"/>
<text x="598.77" y="264.90" font-size="13.80" style="stroke-width:0.12px" textLength="19.25" lengthAdjust="spacingAndGlyphs">500</text>
<line x1="651.60" y1="246.00" x2="651.60" y2="250.30" stroke="#222" stroke-width="1.3"/>
<text x="641.97" y="264.90" font-size="13.80" style="stroke-width:0.12px" textLength="19.25" lengthAdjust="spacingAndGlyphs">550</text>
<line x1="388.40" y1="246.00" x2="392.40" y2="246.00" stroke="#222" stroke-width="1.3"/>
<text x="369.91" y="250.25" font-size="13.80" style="stroke-width:0.12px" textLength="15.18" lengthAdjust="spacingAndGlyphs">0.0</text>
<line x1="388.40" y1="198.72" x2="392.40" y2="198.72" stroke="#222" stroke-width="1.3"/>
<text x="369.91" y="202.97" font-size="13.80" style="stroke-width:0.12px" textLength="15.18" lengthAdjust="spacingAndGlyphs">0.2</text>
<line x1="388.40" y1="151.44" x2="392.40" y2="151.44" stroke="#222" stroke-width="1.3"/>
<text x="369.66" y="155.69" font-size="13.80" style="stroke-width:0.12px" textLength="15.18" lengthAdjust="spacingAndGlyphs">0.4</text>
<line x1="388.40" y1="104.16" x2="392.40" y2="104.16" stroke="#222" stroke-width="1.3"/>
<text x="369.78" y="108.41" font-size="13.80" style="stroke-width:0.12px" textLength="15.18" lengthAdjust="spacingAndGlyphs">0.6</text>
<line x1="388.40" y1="56.88" x2="392.40" y2="56.88" stroke="#222" stroke-width="1.3"/>
<text x="369.85" y="61.13" font-size="13.80" style="stroke-width:0.12px" textLength="15.18" lengthAdjust="spacingAndGlyphs">0.8</text>
<line x1="388.40" y1="9.60" x2="392.40" y2="9.60" stroke="#222" stroke-width="1.3"/>
<text x="369.91" y="13.85" font-size="13.80" style="stroke-width:0.12px" textLength="15.18" lengthAdjust="spacingAndGlyphs">1.0</text>
<text x="460.85" y="287.50" font-size="18.50" style="stroke-width:0.45px" textLength="122.53" lengthAdjust="spacingAndGlyphs">Wavelength (nm)</text>
<text x="352.90" y="186.79" font-size="17.40" style="stroke-width:0.45px" textLength="95.59" lengthAdjust="spacingAndGlyphs" transform="rotate(-90 352.90 186.79)">Absorbance</text>
<text x="393.04" y="27.50" font-size="18.10" style="stroke-width:0.45px" textLength="20.57" lengthAdjust="spacingAndGlyphs">(b)</text>
<text x="482.30" y="27.80" font-size="14.20" style="stroke-width:0.12px" textLength="39.85" lengthAdjust="spacingAndGlyphs">10 ppm</text>
<text x="563.11" y="36.70" font-size="14.10" style="stroke-width:0.12px" textLength="59.51" lengthAdjust="spacingAndGlyphs">Time (min)</text>
<line x1="569.80" y1="48.80" x2="593.10" y2="48.80" stroke="#000000" stroke-width="2.0"/>
<text x="595.48" y="52.70" font-size="14.40" style="stroke-width:0.12px" textLength="6.48" lengthAdjust="spacingAndGlyphs">0</text>
<line x1="569.80" y1="66.60" x2="593.10" y2="66.60" stroke="#ff0000" stroke-width="2.0"/>
<text x="595.48" y="70.50" font-size="14.40" style="stroke-width:0.12px" textLength="6.48" lengthAdjust="spacingAndGlyphs">5</text>
<line x1="569.80" y1="84.60" x2="593.10" y2="84.60" stroke="#0000ff" stroke-width="2.0"/>
<text x="594.96" y="88.50" font-size="14.40" style="stroke-width:0.12px" textLength="12.96" lengthAdjust="spacingAndGlyphs">10</text>
<line x1="569.80" y1="102.50" x2="593.10" y2="102.50" stroke="#ff00ff" stroke-width="2.0"/>
<text x="595.48" y="106.40" font-size="14.40" style="stroke-width:0.12px" textLength="12.96" lengthAdjust="spacingAndGlyphs">20</text>
<line x1="569.80" y1="120.20" x2="593.10" y2="120.20" stroke="#008000" stroke-width="2.0"/>
<text x="595.55" y="124.10" font-size="14.40" style="stroke-width:0.12px" textLength="12.96" lengthAdjust="spacingAndGlyphs">30</text>
<line x1="569.80" y1="138.10" x2="593.10" y2="138.10" stroke="#000080" stroke-width="2.0"/>
<text x="595.81" y="142.00" font-size="14.40" style="stroke-width:0.12px" textLength="12.96" lengthAdjust="spacingAndGlyphs">40</text>
<line x1="569.80" y1="156.10" x2="593.10" y2="156.10" stroke="#8b00ff" stroke-width="2.0"/>
<text x="595.48" y="160.00" font-size="14.40" style="stroke-width:0.12px" textLength="12.96" lengthAdjust="spacingAndGlyphs">50</text>
<line x1="569.80" y1="173.80" x2="593.10" y2="173.80" stroke="#800080" stroke-width="2.0"/>
<text x="595.55" y="177.70" font-size="14.40" style="stroke-width:0.12px" textLength="12.96" lengthAdjust="spacingAndGlyphs">60</text>
<path d="M74.00 524.00L93.76 436.98L113.52 366.22L153.03 310.20L192.55 310.20L232.07 310.20L271.58 310.20L311.10 310.20" fill="none" stroke="#000" stroke-width="1.6" stroke-dasharray="4 3.2"/>
<path d="M74.00 524.00L93.76 457.72L113.52 409.62L153.03 385.24L192.55 368.35L232.07 359.59L271.58 346.76L311.10 346.76" fill="none" stroke="#000" stroke-width="1.6" stroke-dasharray="4 3.2"/>
<path d="M74.00 524.00L93.76 471.83L113.52 458.79L153.03 437.84L192.55 422.44L232.07 406.62L271.58 394.65L311.10 381.40" fill="none" stroke="#000" stroke-width="1.6" stroke-dasharray="4 3.2"/>
<path d="M74.00 524.00L93.76 512.24L113.52 502.41L153.03 479.53L192.55 468.84L232.07 450.24L271.58 442.76L311.10 429.07" fill="none" stroke="#000" stroke-width="1.6" stroke-dasharray="1.6 1.6"/>
<rect x="70.40" y="520.40" width="7.20" height="7.20" fill="#000"/>
<path d="M93.76 434.85V439.12M89.86 434.85H97.66M89.86 439.12H97.66" stroke="#000" stroke-width="1.2" fill="none"/>
<rect x="90.16" y="433.38" width="7.20" height="7.20" fill="#000"/>
<path d="M113.52 358.09V374.34M109.62 358.09H117.42M109.62 374.34H117.42" stroke="#000" stroke-width="1.2" fill="none"/>
<rect x="109.92" y="362.62" width="7.20" height="7.20" fill="#000"/>
<path d="M153.03 306.14V314.26M149.13 306.14H156.93M149.13 314.26H156.93" stroke="#000" stroke-width="1.2" fill="none"/>
<rect x="149.43" y="306.60" width="7.20" height="7.20" fill="#000"/>
<path d="M192.55 306.14V314.26M188.65 306.14H196.45M188.65 314.26H196.45" stroke="#000" stroke-width="1.2" fill="none"/>
<rect x="188.95" y="306.60" width="7.20" height="7.20" fill="#000"/>
<path d="M232.07 306.14V314.26M228.17 306.14H235.97M228.17 314.26H235.97" stroke="#000" stroke-width="1.2" fill="none"/>
<rect x="228.47" y="306.60" width="7.20" height="7.20" fill="#000"/>
<path d="M271.58 306.14V314.26M267.68 306.14H275.48M267.68 314.26H275.48" stroke="#000" stroke-width="1.2" fill="none"/>
<rect x="267.98" y="306.60" width="7.20" height="7.20" fill="#000"/>
<path d="M311.10 306.14V314.26M307.20 306.14H315.00M307.20 314.26H315.00" stroke="#000" stroke-width="1.2" fill="none"/>
<rect x="307.50" y="306.60" width="7.20" height="7.20" fill="#000"/>
<circle cx="74.00" cy="524.00" r="3.75" fill="#000"/>
<path d="M93.76 455.58V459.86M89.86 455.58H97.66M89.86 459.86H97.66" stroke="#000" stroke-width="1.2" fill="none"/>
<circle cx="93.76" cy="457.72" r="3.75" fill="#000"/>
<path d="M113.52 403.42V415.82M109.62 403.42H117.42M109.62 415.82H117.42" stroke="#000" stroke-width="1.2" fill="none"/>
<circle cx="113.52" cy="409.62" r="3.75" fill="#000"/>
<path d="M153.03 378.19V392.30M149.13 378.19H156.93M149.13 392.30H156.93" stroke="#000" stroke-width="1.2" fill="none"/>
<circle cx="153.03" cy="385.24" r="3.75" fill="#000"/>
<path d="M192.55 360.87V375.84M188.65 360.87H196.45M188.65 375.84H196.45" stroke="#000" stroke-width="1.2" fill="none"/>
<circle cx="192.55" cy="368.35" r="3.75" fill="#000"/>
<path d="M232.07 351.68V367.50M228.17 351.68H235.97M228.17 367.50H235.97" stroke="#000" stroke-width="1.2" fill="none"/>
<circle cx="232.07" cy="359.59" r="3.75" fill="#000"/>
<path d="M271.58 337.78V355.74M267.68 337.78H275.48M267.68 355.74H275.48" stroke="#000" stroke-width="1.2" fill="none"/>
<circle cx="271.58" cy="346.76" r="3.75" fill="#000"/>
<path d="M311.10 337.78V355.74M307.20 337.78H315.00M307.20 355.74H315.00" stroke="#000" stroke-width="1.2" fill="none"/>
<circle cx="311.10" cy="346.76" r="3.75" fill="#000"/>
<path d="M74.00 519.40L78.60 524.00L74.00 528.60L69.40 524.00Z" fill="#000"/>
<path d="M93.76 469.69V473.97M89.86 469.69H97.66M89.86 473.97H97.66" stroke="#000" stroke-width="1.2" fill="none"/>
<path d="M93.76 467.23L98.36 471.83L93.76 476.43L89.16 471.83Z" fill="#000"/>
<path d="M113.52 456.23V461.36M109.62 456.23H117.42M109.62 461.36H117.42" stroke="#000" stroke-width="1.2" fill="none"/>
<path d="M113.52 454.19L118.12 458.79L113.52 463.39L108.92 458.79Z" fill="#000"/>
<path d="M153.03 434.63V441.05M149.13 434.63H156.93M149.13 441.05H156.93" stroke="#000" stroke-width="1.2" fill="none"/>
<path d="M153.03 433.24L157.63 437.84L153.03 442.44L148.43 437.84Z" fill="#000"/>
<path d="M192.55 418.17V426.72M188.65 418.17H196.45M188.65 426.72H196.45" stroke="#000" stroke-width="1.2" fill="none"/>
<path d="M192.55 417.84L197.15 422.44L192.55 427.05L187.95 422.44Z" fill="#000"/>
<path d="M232.07 400.42V412.82M228.17 400.42H235.97M228.17 412.82H235.97" stroke="#000" stroke-width="1.2" fill="none"/>
<path d="M232.07 402.02L236.67 406.62L232.07 411.22L227.47 406.62Z" fill="#000"/>
<path d="M271.58 388.02V401.28M267.68 388.02H275.48M267.68 401.28H275.48" stroke="#000" stroke-width="1.2" fill="none"/>
<path d="M271.58 390.05L276.18 394.65L271.58 399.25L266.98 394.65Z" fill="#000"/>
<path d="M311.10 374.13V388.66M307.20 374.13H315.00M307.20 388.66H315.00" stroke="#000" stroke-width="1.2" fill="none"/>
<path d="M311.10 376.80L315.70 381.40L311.10 386.00L306.50 381.40Z" fill="#000"/>
<path d="M74.00 528.70L78.10 521.50L69.90 521.50Z" fill="#000"/>
<path d="M93.76 510.32V514.17M89.86 510.32H97.66M89.86 514.17H97.66" stroke="#000" stroke-width="1.2" fill="none"/>
<path d="M93.76 516.94L97.86 509.74L89.66 509.74Z" fill="#000"/>
<path d="M113.52 500.48V504.33M109.62 500.48H117.42M109.62 504.33H117.42" stroke="#000" stroke-width="1.2" fill="none"/>
<path d="M113.52 507.11L117.62 499.91L109.42 499.91Z" fill="#000"/>
<path d="M153.03 477.39V481.67M149.13 477.39H156.93M149.13 481.67H156.93" stroke="#000" stroke-width="1.2" fill="none"/>
<path d="M153.03 484.23L157.13 477.03L148.93 477.03Z" fill="#000"/>
<path d="M192.55 466.27V471.41M188.65 466.27H196.45M188.65 471.41H196.45" stroke="#000" stroke-width="1.2" fill="none"/>
<path d="M192.55 473.54L196.65 466.34L188.45 466.34Z" fill="#000"/>
<path d="M232.07 447.25V453.23M228.17 447.25H235.97M228.17 453.23H235.97" stroke="#000" stroke-width="1.2" fill="none"/>
<path d="M232.07 454.94L236.17 447.74L227.97 447.74Z" fill="#000"/>
<path d="M271.58 438.91V446.60M267.68 438.91H275.48M267.68 446.60H275.48" stroke="#000" stroke-width="1.2" fill="none"/>
<path d="M271.58 447.46L275.68 440.26L267.48 440.26Z" fill="#000"/>
<path d="M311.10 424.80V433.35M307.20 424.80H315.00M307.20 433.35H315.00" stroke="#000" stroke-width="1.2" fill="none"/>
<path d="M311.10 433.77L315.20 426.57L307.00 426.57Z" fill="#000"/>
<rect x="54.60" y="299.60" width="276.10" height="245.70" fill="none" stroke="#222" stroke-width="1.3"/>
<line x1="74.00" y1="545.30" x2="74.00" y2="550.60" stroke="#222" stroke-width="1.3"/>
<text x="70.48" y="564.70" font-size="15.00" style="stroke-width:0.12px" textLength="7.05" lengthAdjust="spacingAndGlyphs">0</text>
<line x1="113.52" y1="545.30" x2="113.52" y2="550.60" stroke="#222" stroke-width="1.3"/>
<text x="106.18" y="564.70" font-size="15.00" style="stroke-width:0.12px" textLength="14.10" lengthAdjust="spacingAndGlyphs">10</text>
<line x1="153.03" y1="545.30" x2="153.03" y2="550.60" stroke="#222" stroke-width="1.3"/>
<text x="145.98" y="564.70" font-size="15.00" style="stroke-width:0.12px" textLength="14.10" lengthAdjust="spacingAndGlyphs">20</text>
<line x1="192.55" y1="545.30" x2="192.55" y2="550.60" stroke="#222" stroke-width="1.3"/>
<text x="185.54" y="564.70" font-size="15.00" style="stroke-width:0.12px" textLength="14.10" lengthAdjust="spacingAndGlyphs">30</text>
<line x1="232.07" y1="545.30" x2="232.07" y2="550.60" stroke="#222" stroke-width="1.3"/>
<text x="225.19" y="564.70" font-size="15.00" style="stroke-width:0.12px" textLength="14.10" lengthAdjust="spacingAndGlyphs">40</text>
<line x1="271.58" y1="545.30" x2="271.58" y2="550.60" stroke="#222" stroke-width="1.3"/>
<text x="264.53" y="564.70" font-size="15.00" style="stroke-width:0.12px" textLength="14.10" lengthAdjust="spacingAndGlyphs">50</text>
<line x1="311.10" y1="545.30" x2="311.10" y2="550.60" stroke="#222" stroke-width="1.3"/>
<text x="304.09" y="564.70" font-size="15.00" style="stroke-width:0.12px" textLength="14.10" lengthAdjust="spacingAndGlyphs">60</text>
<line x1="49.80" y1="524.00" x2="54.60" y2="524.00" stroke="#222" stroke-width="1.3"/>
<text x="40.08" y="528.30" font-size="15.50" style="stroke-width:0.12px" textLength="6.98" lengthAdjust="spacingAndGlyphs">0</text>
<line x1="49.80" y1="481.24" x2="54.60" y2="481.24" stroke="#222" stroke-width="1.3"/>
<text x="33.11" y="485.54" font-size="15.50" style="stroke-width:0.12px" textLength="13.95" lengthAdjust="spacingAndGlyphs">20</text>
<line x1="49.80" y1="438.48" x2="54.60" y2="438.48" stroke="#222" stroke-width="1.3"/>
<text x="33.11" y="442.78" font-size="15.50" style="stroke-width:0.12px" textLength="13.95" lengthAdjust="spacingAndGlyphs">40</text>
<line x1="49.80" y1="395.72" x2="54.60" y2="395.72" stroke="#222" stroke-width="1.3"/>
<text x="33.11" y="400.02" font-size="15.50" style="stroke-width:0.12px" textLength="13.95" lengthAdjust="spacingAndGlyphs">60</text>
<line x1="49.80" y1="352.96" x2="54.60" y2="352.96" stroke="#222" stroke-width="1.3"/>
<text x="33.11" y="357.26" font-size="15.50" style="stroke-width:0.12px" textLength="13.95" lengthAdjust="spacingAndGlyphs">80</text>
<line x1="49.80" y1="310.20" x2="54.60" y2="310.20" stroke="#222" stroke-width="1.3"/>
<text x="26.13" y="314.50" font-size="15.50" style="stroke-width:0.12px" textLength="20.93" lengthAdjust="spacingAndGlyphs">100</text>
<text x="148.72" y="591.50" font-size="20.00" style="stroke-width:0.45px" textLength="87.94" lengthAdjust="spacingAndGlyphs">Time (min)</text>
<text x="20.90" y="503.69" font-size="18.50" style="stroke-width:0.45px" textLength="139.44" lengthAdjust="spacingAndGlyphs" transform="rotate(-90 20.90 503.69)">Degradation (%)</text>
<text x="56.08" y="318.70" font-size="18.60" style="stroke-width:0.45px" textLength="20.24" lengthAdjust="spacingAndGlyphs">(c)</text>
<text x="216.20" y="474.50" font-size="13.30" style="stroke-width:0.12px" textLength="112.14" lengthAdjust="spacingAndGlyphs">Concentration (mg/L)</text>
<path d="M261.20 487.50L287.00 487.50" fill="none" stroke="#000" stroke-width="1.5" stroke-dasharray="4 3.2"/>
<rect x="270.60" y="483.90" width="7.20" height="7.20" fill="#000"/>
<text x="289.84" y="491.50" font-size="12.30" font-weight="normal" style="stroke-width:0.1px" textLength="5.66" lengthAdjust="spacingAndGlyphs">1</text>
<path d="M261.20 503.00L287.00 503.00" fill="none" stroke="#000" stroke-width="1.5" stroke-dasharray="4 3.2"/>
<circle cx="274.20" cy="503.00" r="3.75" fill="#000"/>
<text x="290.12" y="507.00" font-size="12.30" font-weight="normal" style="stroke-width:0.1px" textLength="5.66" lengthAdjust="spacingAndGlyphs">5</text>
<path d="M261.20 518.60L287.00 518.60" fill="none" stroke="#000" stroke-width="1.5" stroke-dasharray="4 3.2"/>
<path d="M274.20 514.00L278.80 518.60L274.20 523.20L269.60 518.60Z" fill="#000"/>
<text x="289.84" y="522.60" font-size="12.30" font-weight="normal" style="stroke-width:0.1px" textLength="11.32" lengthAdjust="spacingAndGlyphs">10</text>
<path d="M261.20 534.50L287.00 534.50" fill="none" stroke="#000" stroke-width="1.5" stroke-dasharray="1.6 1.6"/>
<path d="M274.20 539.20L278.30 532.00L270.10 532.00Z" fill="#000"/>
<text x="290.29" y="538.50" font-size="12.30" font-weight="normal" style="stroke-width:0.1px" textLength="11.32" lengthAdjust="spacingAndGlyphs">20</text>
<clipPath id="cd"><rect x="395" y="298.2" width="268.79999999999995" height="246.40000000000003"/></clipPath><g clip-path="url(#cd)">
<path d="M395.00 319.20L417.05 401.16L439.10 470.42L483.20 519.80L527.30 521.64L571.40 521.85L615.50 523.69L659.60 523.69" fill="none" stroke="#000" stroke-width="1.6" stroke-dasharray="1.6 1.6"/>
<path d="M395.00 319.20L417.05 382.31L439.10 428.62L483.20 452.18L527.30 468.57L571.40 476.97L615.50 489.06L659.60 489.06" fill="none" stroke="#000" stroke-width="1.6" stroke-dasharray="1.6 1.6"/>
<path d="M395.00 319.20L417.05 367.56L439.10 380.06L483.20 400.34L527.30 415.91L571.40 431.08L615.50 443.37L659.60 456.89" fill="none" stroke="#000" stroke-width="1.6" stroke-dasharray="1.6 1.6"/>
<path d="M395.00 319.20L417.05 332.31L439.10 341.74L483.20 364.48L527.30 373.91L571.40 390.51L615.50 398.09L659.60 411.40" fill="none" stroke="#000" stroke-width="1.6" stroke-dasharray="1.6 1.6"/>
<rect x="391.40" y="315.60" width="7.20" height="7.20" fill="#000"/>
<path d="M417.05 397.06V405.26M413.15 397.06H420.95M413.15 405.26H420.95" stroke="#000" stroke-width="1.2" fill="none"/>
<rect x="413.45" y="397.56" width="7.20" height="7.20" fill="#000"/>
<path d="M439.10 468.37V472.47M435.20 468.37H443.00M435.20 472.47H443.00" stroke="#000" stroke-width="1.2" fill="none"/>
<rect x="435.50" y="466.82" width="7.20" height="7.20" fill="#000"/>
<path d="M483.20 518.16V521.44M479.30 518.16H487.10M479.30 521.44H487.10" stroke="#000" stroke-width="1.2" fill="none"/>
<rect x="479.60" y="516.20" width="7.20" height="7.20" fill="#000"/>
<path d="M527.30 520.00V523.28M523.40 520.00H531.20M523.40 523.28H531.20" stroke="#000" stroke-width="1.2" fill="none"/>
<rect x="523.70" y="518.04" width="7.20" height="7.20" fill="#000"/>
<path d="M571.40 520.21V523.49M567.50 520.21H575.30M567.50 523.49H575.30" stroke="#000" stroke-width="1.2" fill="none"/>
<rect x="567.80" y="518.25" width="7.20" height="7.20" fill="#000"/>
<path d="M615.50 522.46V524.92M611.60 522.46H619.40M611.60 524.92H619.40" stroke="#000" stroke-width="1.2" fill="none"/>
<rect x="611.90" y="520.09" width="7.20" height="7.20" fill="#000"/>
<path d="M659.60 522.46V524.92M655.70 522.46H663.50M655.70 524.92H663.50" stroke="#000" stroke-width="1.2" fill="none"/>
<rect x="656.00" y="520.09" width="7.20" height="7.20" fill="#000"/>
<circle cx="395.00" cy="319.20" r="3.75" fill="#000"/>
<path d="M417.05 377.19V387.43M413.15 377.19H420.95M413.15 387.43H420.95" stroke="#000" stroke-width="1.2" fill="none"/>
<circle cx="417.05" cy="382.31" r="3.75" fill="#000"/>
<path d="M439.10 424.52V432.71M435.20 424.52H443.00M435.20 432.71H443.00" stroke="#000" stroke-width="1.2" fill="none"/>
<circle cx="439.10" cy="428.62" r="3.75" fill="#000"/>
<path d="M483.20 449.11V455.25M479.30 449.11H487.10M479.30 455.25H487.10" stroke="#000" stroke-width="1.2" fill="none"/>
<circle cx="483.20" cy="452.18" r="3.75" fill="#000"/>
<path d="M527.30 466.11V471.03M523.40 466.11H531.20M523.40 471.03H531.20" stroke="#000" stroke-width="1.2" fill="none"/>
<circle cx="527.30" cy="468.57" r="3.75" fill="#000"/>
<path d="M571.40 474.92V479.02M567.50 474.92H575.30M567.50 479.02H575.30" stroke="#000" stroke-width="1.2" fill="none"/>
<circle cx="571.40" cy="476.97" r="3.75" fill="#000"/>
<path d="M615.50 487.42V490.70M611.60 487.42H619.40M611.60 490.70H619.40" stroke="#000" stroke-width="1.2" fill="none"/>
<circle cx="615.50" cy="489.06" r="3.75" fill="#000"/>
<path d="M659.60 487.42V490.70M655.70 487.42H663.50M655.70 490.70H663.50" stroke="#000" stroke-width="1.2" fill="none"/>
<circle cx="659.60" cy="489.06" r="3.75" fill="#000"/>
<path d="M395.00 314.50L399.10 321.70L390.90 321.70Z" fill="#000"/>
<path d="M417.05 361.41V373.70M413.15 361.41H420.95M413.15 373.70H420.95" stroke="#000" stroke-width="1.2" fill="none"/>
<path d="M417.05 362.86L421.15 370.06L412.95 370.06Z" fill="#000"/>
<path d="M439.10 373.09V387.02M435.20 373.09H443.00M435.20 387.02H443.00" stroke="#000" stroke-width="1.2" fill="none"/>
<path d="M439.10 375.36L443.20 382.56L435.00 382.56Z" fill="#000"/>
<path d="M483.20 394.40V406.28M479.30 394.40H487.10M479.30 406.28H487.10" stroke="#000" stroke-width="1.2" fill="none"/>
<path d="M483.20 395.64L487.30 402.84L479.10 402.84Z" fill="#000"/>
<path d="M527.30 410.79V421.04M523.40 410.79H531.20M523.40 421.04H531.20" stroke="#000" stroke-width="1.2" fill="none"/>
<path d="M527.30 411.21L531.40 418.41L523.20 418.41Z" fill="#000"/>
<path d="M571.40 426.98V435.17M567.50 426.98H575.30M567.50 435.17H575.30" stroke="#000" stroke-width="1.2" fill="none"/>
<path d="M571.40 426.38L575.50 433.58L567.30 433.58Z" fill="#000"/>
<path d="M615.50 439.68V447.06M611.60 439.68H619.40M611.60 447.06H619.40" stroke="#000" stroke-width="1.2" fill="none"/>
<path d="M615.50 438.67L619.60 445.87L611.40 445.87Z" fill="#000"/>
<path d="M659.60 453.82V459.97M655.70 453.82H663.50M655.70 459.97H663.50" stroke="#000" stroke-width="1.2" fill="none"/>
<path d="M659.60 452.19L663.70 459.39L655.50 459.39Z" fill="#000"/>
<path d="M395.00 323.90L399.10 316.70L390.90 316.70Z" fill="#000"/>
<path d="M417.05 322.68V341.94M413.15 322.68H420.95M413.15 341.94H420.95" stroke="#000" stroke-width="1.2" fill="none"/>
<path d="M417.05 337.01L421.15 329.81L412.95 329.81Z" fill="#000"/>
<path d="M439.10 332.72V350.75M435.20 332.72H443.00M435.20 350.75H443.00" stroke="#000" stroke-width="1.2" fill="none"/>
<path d="M439.10 346.44L443.20 339.24L435.00 339.24Z" fill="#000"/>
<path d="M483.20 356.49V372.47M479.30 356.49H487.10M479.30 372.47H487.10" stroke="#000" stroke-width="1.2" fill="none"/>
<path d="M483.20 369.18L487.30 361.98L479.10 361.98Z" fill="#000"/>
<path d="M527.30 366.33V381.49M523.40 366.33H531.20M523.40 381.49H531.20" stroke="#000" stroke-width="1.2" fill="none"/>
<path d="M527.30 378.61L531.40 371.41L523.20 371.41Z" fill="#000"/>
<path d="M571.40 383.95V397.06M567.50 383.95H575.30M567.50 397.06H575.30" stroke="#000" stroke-width="1.2" fill="none"/>
<path d="M571.40 395.21L575.50 388.01L567.30 388.01Z" fill="#000"/>
<path d="M615.50 392.14V404.03M611.60 392.14H619.40M611.60 404.03H619.40" stroke="#000" stroke-width="1.2" fill="none"/>
<path d="M615.50 402.79L619.60 395.59L611.40 395.59Z" fill="#000"/>
<path d="M659.60 405.87V416.94M655.70 405.87H663.50M655.70 416.94H663.50" stroke="#000" stroke-width="1.2" fill="none"/>
<path d="M659.60 416.10L663.70 408.90L655.50 408.90Z" fill="#000"/>
</g>
<rect x="395.00" y="298.20" width="268.80" height="246.40" fill="none" stroke="#222" stroke-width="1.3"/>
<line x1="395.00" y1="544.60" x2="395.00" y2="549.60" stroke="#222" stroke-width="1.3"/>
<text x="391.65" y="564.50" font-size="15.40" style="stroke-width:0.12px" textLength="6.70" lengthAdjust="spacingAndGlyphs">0</text>
<line x1="439.10" y1="544.60" x2="439.10" y2="549.60" stroke="#222" stroke-width="1.3"/>
<text x="432.13" y="564.50" font-size="15.40" style="stroke-width:0.12px" textLength="13.40" lengthAdjust="spacingAndGlyphs">10</text>
<line x1="483.20" y1="544.60" x2="483.20" y2="549.60" stroke="#222" stroke-width="1.3"/>
<text x="476.50" y="564.50" font-size="15.40" style="stroke-width:0.12px" textLength="13.40" lengthAdjust="spacingAndGlyphs">20</text>
<line x1="527.30" y1="544.60" x2="527.30" y2="549.60" stroke="#222" stroke-width="1.3"/>
<text x="520.63" y="564.50" font-size="15.40" style="stroke-width:0.12px" textLength="13.40" lengthAdjust="spacingAndGlyphs">30</text>
<line x1="571.40" y1="544.60" x2="571.40" y2="549.60" stroke="#222" stroke-width="1.3"/>
<text x="564.87" y="564.50" font-size="15.40" style="stroke-width:0.12px" textLength="13.40" lengthAdjust="spacingAndGlyphs">40</text>
<line x1="615.50" y1="544.60" x2="615.50" y2="549.60" stroke="#222" stroke-width="1.3"/>
<text x="608.80" y="564.50" font-size="15.40" style="stroke-width:0.12px" textLength="13.40" lengthAdjust="spacingAndGlyphs">50</text>
<line x1="659.60" y1="544.60" x2="659.60" y2="549.60" stroke="#222" stroke-width="1.3"/>
<text x="652.93" y="564.50" font-size="15.40" style="stroke-width:0.12px" textLength="13.40" lengthAdjust="spacingAndGlyphs">60</text>
<line x1="390.20" y1="524.10" x2="395.00" y2="524.10" stroke="#222" stroke-width="1.3"/>
<text x="370.28" y="528.10" font-size="15.20" style="stroke-width:0.12px" textLength="17.48" lengthAdjust="spacingAndGlyphs">0.0</text>
<line x1="390.20" y1="483.12" x2="395.00" y2="483.12" stroke="#222" stroke-width="1.3"/>
<text x="370.28" y="487.12" font-size="15.20" style="stroke-width:0.12px" textLength="17.48" lengthAdjust="spacingAndGlyphs">0.2</text>
<line x1="390.20" y1="442.14" x2="395.00" y2="442.14" stroke="#222" stroke-width="1.3"/>
<text x="370.00" y="446.14" font-size="15.20" style="stroke-width:0.12px" textLength="17.48" lengthAdjust="spacingAndGlyphs">0.4</text>
<line x1="390.20" y1="401.16" x2="395.00" y2="401.16" stroke="#222" stroke-width="1.3"/>
<text x="370.14" y="405.16" font-size="15.20" style="stroke-width:0.12px" textLength="17.48" lengthAdjust="spacingAndGlyphs">0.6</text>
<line x1="390.20" y1="360.18" x2="395.00" y2="360.18" stroke="#222" stroke-width="1.3"/>
<text x="370.21" y="364.18" font-size="15.20" style="stroke-width:0.12px" textLength="17.48" lengthAdjust="spacingAndGlyphs">0.8</text>
<line x1="390.20" y1="319.20" x2="395.00" y2="319.20" stroke="#222" stroke-width="1.3"/>
<text x="370.28" y="323.20" font-size="15.20" style="stroke-width:0.12px" textLength="17.48" lengthAdjust="spacingAndGlyphs">1.0</text>
<text x="486.73" y="588.50" font-size="20.40" style="stroke-width:0.45px" textLength="85.11" lengthAdjust="spacingAndGlyphs">Time (min)</text>
<text x="356.80" y="458.33" font-size="18.80" style="stroke-width:0.45px" textLength="14.93" lengthAdjust="spacingAndGlyphs" transform="rotate(-90 356.80 458.33)">C</text>
<text x="360.60" y="444.56" font-size="12.50" style="stroke-width:0.3px" textLength="9.52" lengthAdjust="spacingAndGlyphs" transform="rotate(-90 360.60 444.56)">0</text>
<text x="356.60" y="434.04" font-size="18.00" style="stroke-width:0.45px" textLength="4.45" lengthAdjust="spacingAndGlyphs" transform="rotate(-90 356.60 434.04)">/</text>
<text x="357.00" y="429.63" font-size="18.80" style="stroke-width:0.45px" textLength="14.93" lengthAdjust="spacingAndGlyphs" transform="rotate(-90 357.00 429.63)">C</text>
<text x="360.80" y="414.72" font-size="12.00" style="stroke-width:0.3px" textLength="4.42" lengthAdjust="spacingAndGlyphs" transform="rotate(-90 360.80 414.72)">i</text>
<text x="396.45" y="313.60" font-size="17.80" font-weight="normal" style="stroke-width:0.55px" textLength="22.13" lengthAdjust="spacingAndGlyphs">(d)</text>
<text x="534.42" y="316.30" font-size="14.00" style="stroke-width:0.12px" textLength="126.89" lengthAdjust="spacingAndGlyphs">Concentration (mg/L)</text>
<path d="M554.20 328.20L577.80 328.20" fill="none" stroke="#000" stroke-width="1.5" stroke-dasharray="1.6 1.6"/>
<rect x="563.41" y="324.31" width="7.78" height="7.78" fill="#000"/>
<text x="583.01" y="332.30" font-size="14.00" font-weight="normal" style="stroke-width:0.1px" textLength="7.00" lengthAdjust="spacingAndGlyphs">1</text>
<path d="M601.80 328.20L625.00 328.20" fill="none" stroke="#000" stroke-width="1.5" stroke-dasharray="1.6 1.6"/>
<circle cx="615.30" cy="328.20" r="4.05" fill="#000"/>
<text x="630.26" y="332.30" font-size="14.00" font-weight="normal" style="stroke-width:0.1px" textLength="7.00" lengthAdjust="spacingAndGlyphs">5</text>
<path d="M557.80 345.80L581.50 345.80" fill="none" stroke="#000" stroke-width="1.5" stroke-dasharray="1.6 1.6"/>
<path d="M570.60 340.72L575.03 348.50L566.17 348.50Z" fill="#000"/>
<text x="585.61" y="349.90" font-size="14.00" font-weight="normal" style="stroke-width:0.1px" textLength="14.00" lengthAdjust="spacingAndGlyphs">10</text>
<path d="M605.90 345.80L628.80 345.80" fill="none" stroke="#000" stroke-width="1.5" stroke-dasharray="1.6 1.6"/>
<path d="M619.10 350.88L623.53 343.10L614.67 343.10Z" fill="#000"/>
<text x="633.47" y="349.90" font-size="14.00" font-weight="normal" style="stroke-width:0.1px" textLength="14.00" lengthAdjust="spacingAndGlyphs">20</text>
</svg></body></html>
